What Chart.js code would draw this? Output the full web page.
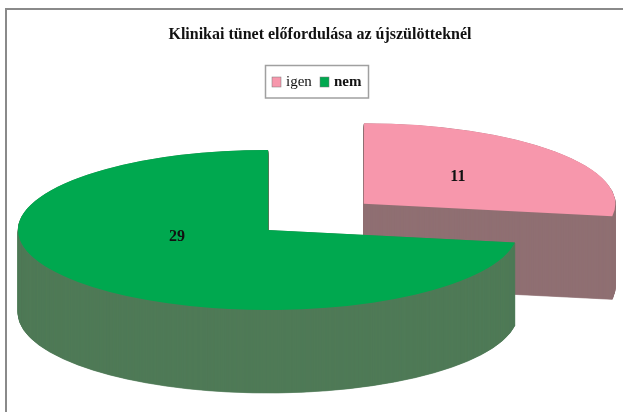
<!DOCTYPE html>
<html><head><meta charset="utf-8">
<style>html,body{margin:0;padding:0;background:#fff}#w{position:relative;width:623px;height:412px}canvas{display:block}</style>
<script src="https://cdn.jsdelivr.net/npm/chart.js@4"></script>
</head><body><div id="w"><canvas id="c" width="623" height="412"></canvas></div>
<script>
const chartTitle = 'Klinikai tünet előfordulása az újszülötteknél';
const categories = ['igen', 'nem'];
const values = [11, 29];
const topColors = ['#f797ac', '#00a84f'];
const wallColors = ['#8f6f72', '#4f7a57'];

const FONT = '"Liberation Serif","Times New Roman",serif';
const TILT = 0.32, DEPTH = 83, CX = 268, CY = 230;
const LABEL_SHIFT = [[-1, -1], [4, -19]];
const LEGEND_SWATCH_X = [272, 320];
const LEGEND_TEXT_X = [286, 334];
const LEGEND_WEIGHT = ['normal', 'bold'];

const pie3d = {
  id: 'pie3d',
  beforeDraw(chart) {
    const c = chart.ctx;
    c.save();
    c.fillStyle = '#fff'; c.fillRect(0, 0, chart.width, chart.height);
    c.strokeStyle = '#8a8a8a'; c.lineWidth = 2;
    c.beginPath(); c.moveTo(6, 412); c.lineTo(6, 9); c.lineTo(623, 9); c.stroke();
    c.restore();
  },
  beforeDatasetDraw(chart, args) {
    const c = chart.ctx;
    const arcs = args.meta.data;
    arcs.forEach((arc, i) => {
      const base = arc.options;
      const wall = Object.assign({}, base, {backgroundColor: wallColors[i], borderColor: wallColors[i], borderWidth: 1});
      const project = (dy) => {
        c.save();
        c.translate(CX, CY + dy);
        c.scale(1, TILT);
        c.translate(-arc.x, -arc.y);
      };
      arc.options = wall;
      for (let d = DEPTH; d > 0; d -= 0.5) { project(d); arc.draw(c); c.restore(); }
      arc.options = base;
      project(0); arc.draw(c); c.restore();
    });
    return false;
  },
  afterDatasetsDraw(chart) {
    const c = chart.ctx;
    const arcs = chart.getDatasetMeta(0).data;
    c.save();
    c.font = 'bold 16px ' + FONT; c.fillStyle = '#111';
    c.textAlign = 'center'; c.textBaseline = 'middle';
    arcs.forEach((arc, i) => {
      const a = (arc.startAngle + arc.endAngle) / 2;
      const r = arc.options.offset / 4 + arc.outerRadius / 2;
      c.fillText(String(values[i]),
        CX + Math.cos(a) * r + LABEL_SHIFT[i][0],
        CY + Math.sin(a) * r * TILT + LABEL_SHIFT[i][1]);
    });
    // legend box
    c.lineWidth = 1.5; c.strokeStyle = '#a0a0a0';
    c.strokeRect(265.5, 65.5, 103, 32.5);
    c.textAlign = 'left';
    categories.forEach((name, i) => {
      c.fillStyle = topColors[i];
      c.fillRect(LEGEND_SWATCH_X[i], 77, 9, 10);
      c.lineWidth = 0.5; c.strokeStyle = '#777';
      c.strokeRect(LEGEND_SWATCH_X[i], 77, 9, 10);
      c.fillStyle = '#111';
      c.font = LEGEND_WEIGHT[i] + ' 15px ' + FONT;
      c.fillText(name, LEGEND_TEXT_X[i], 82);
    });
    c.restore();
  }
};

new Chart(document.getElementById('c'), {
  type: 'pie',
  data: {
    labels: categories,
    datasets: [{
      data: values,
      backgroundColor: topColors,
      borderWidth: 0,
      offset: [504, 0],
      clip: false
    }]
  },
  options: {
    responsive: false,
    animation: false,
    radius: 250,
    cutout: '0%',
    layout: {padding: {left: 17, right: 0, top: 16, bottom: 0}},
    plugins: {
      tooltip: {enabled: false},
      legend: {display: false},
      title: {
        display: true, text: chartTitle, color: '#111',
        font: {family: FONT, size: 16, weight: 'bold'},
        padding: {top: 9, bottom: 10}
      }
    }
  },
  plugins: [pie3d]
});
</script></body></html>
